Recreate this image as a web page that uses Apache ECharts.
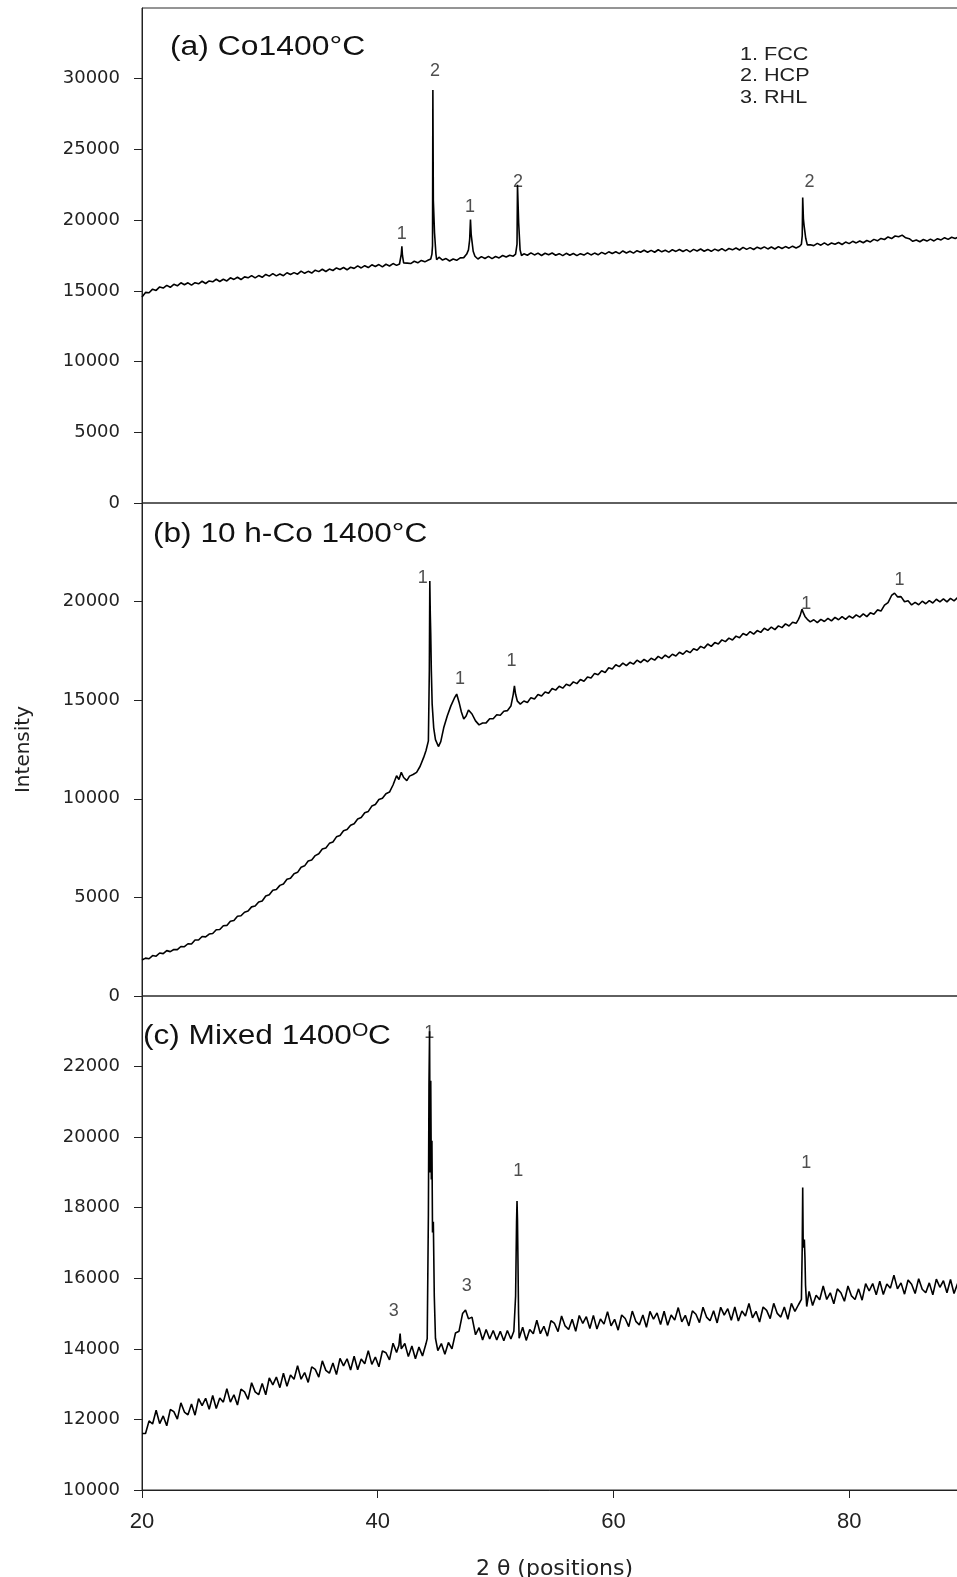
<!DOCTYPE html>
<html>
<head>
<meta charset="utf-8">
<script src="https://cdn.jsdelivr.net/npm/echarts@6/dist/echarts.min.js"></script>
<style>
html,body{margin:0;padding:0;background:#fff;}
#chart{width:957px;height:1577px;}
</style>
</head>
<body>
<div id="chart"></div>
<script>
// ---- data (2θ, intensity) ----
const xrdA = [[20.0,14570],[20.3,14890],[20.6,14870],[20.9,15120],[21.2,15030],[21.5,15280],[21.8,15200],[22.1,15390],[22.4,15250],[22.7,15460],[23.0,15360],[23.3,15570],[23.6,15430],[23.9,15570],[24.2,15400],[24.5,15580],[24.8,15500],[25.1,15680],[25.4,15520],[25.7,15700],[26.0,15640],[26.3,15820],[26.6,15660],[26.9,15820],[27.2,15700],[27.5,15920],[27.8,15810],[28.1,15960],[28.4,15800],[28.7,15990],[29.0,15920],[29.3,16080],[29.6,15920],[29.9,16080],[30.2,15960],[30.5,16160],[30.8,16040],[31.1,16220],[31.4,16060],[31.7,16190],[32.0,16070],[32.3,16280],[32.6,16160],[32.9,16290],[33.2,16180],[33.5,16400],[33.8,16240],[34.1,16380],[34.4,16260],[34.7,16460],[35.0,16360],[35.3,16530],[35.6,16370],[35.9,16540],[36.2,16440],[36.5,16620],[36.8,16510],[37.1,16650],[37.4,16490],[37.7,16670],[38.0,16590],[38.3,16770],[38.6,16620],[38.9,16780],[39.2,16650],[39.5,16840],[39.8,16720],[40.1,16860],[40.4,16700],[40.7,16880],[41.0,16760],[41.3,16930],[41.6,16800],[41.85,16900],[42.0,17600],[42.05,18150],[42.1,17500],[42.2,16980],[42.5,16960],[42.8,16930],[43.1,17090],[43.4,16980],[43.7,17150],[44.0,17050],[44.3,17180],[44.5,17250],[44.6,17600],[44.65,18200],[44.68,29200],[44.72,21400],[44.78,21300],[44.82,19100],[44.88,19000],[44.94,17600],[45.0,17200],[45.2,17380],[45.5,17180],[45.8,17280],[46.1,17110],[46.4,17250],[46.7,17160],[47.0,17330],[47.3,17350],[47.55,17600],[47.7,17900],[47.8,18600],[47.87,20050],[47.93,19000],[48.0,18500],[48.1,17800],[48.25,17450],[48.5,17250],[48.8,17420],[49.1,17290],[49.4,17440],[49.7,17280],[50.0,17430],[50.3,17330],[50.6,17500],[50.9,17390],[51.2,17520],[51.5,17450],[51.7,17600],[51.82,18300],[51.86,22500],[51.92,22400],[51.96,19800],[52.02,19700],[52.08,17900],[52.2,17500],[52.4,17620],[52.7,17520],[53.0,17690],[53.3,17540],[53.6,17670],[53.9,17500],[54.2,17660],[54.5,17550],[54.8,17680],[55.1,17520],[55.4,17630],[55.7,17490],[56.0,17655],[56.3,17515],[56.6,17640],[56.9,17490],[57.2,17630],[57.5,17530],[57.8,17690],[58.1,17540],[58.4,17670],[58.7,17550],[59.0,17720],[59.3,17600],[59.6,17760],[59.9,17640],[60.2,17760],[60.5,17630],[60.8,17820],[61.1,17680],[61.4,17800],[61.7,17670],[62.0,17840],[62.3,17730],[62.6,17870],[62.9,17730],[63.2,17865],[63.5,17730],[63.8,17905],[64.1,17760],[64.4,17875],[64.7,17740],[65.0,17905],[65.3,17790],[65.6,17925],[65.9,17780],[66.2,17915],[66.5,17760],[66.8,17935],[67.1,17815],[67.4,17960],[67.7,17800],[68.0,17930],[68.3,17795],[68.6,17950],[68.9,17835],[69.2,17990],[69.5,17830],[69.8,17995],[70.1,17900],[70.4,18030],[70.7,17890],[71.0,18075],[71.3,17935],[71.6,18055],[71.9,17925],[72.2,18090],[72.5,17975],[72.8,18110],[73.1,17965],[73.4,18100],[73.7,17960],[74.0,18130],[74.3,17990],[74.6,18130],[74.9,18020],[75.2,18160],[75.5,18030],[75.8,18150],[75.95,18300],[76.02,18900],[76.06,21600],[76.12,20100],[76.18,19600],[76.24,19500],[76.32,18700],[76.45,18250],[76.7,18260],[77.0,18200],[77.3,18360],[77.6,18230],[77.9,18390],[78.2,18230],[78.5,18380],[78.8,18290],[79.1,18420],[79.4,18280],[79.7,18450],[80.0,18340],[80.3,18500],[80.6,18390],[80.9,18530],[81.2,18400],[81.5,18560],[81.8,18460],[82.1,18640],[82.4,18540],[82.7,18710],[83.0,18630],[83.3,18810],[83.6,18700],[83.9,18880],[84.2,18820],[84.5,18940],[84.8,18750],[85.1,18690],[85.4,18500],[85.7,18590],[86.0,18470],[86.3,18630],[86.6,18520],[86.9,18660],[87.2,18530],[87.5,18690],[87.8,18600],[88.1,18760],[88.4,18640],[88.7,18790],[89.0,18700],[89.3,18820],[89.6,18700],[90.0,18800]];

const xrdB = [[20.0,1830],[20.3,1920],[20.6,1890],[20.9,2050],[21.2,2020],[21.5,2180],[21.8,2150],[22.1,2300],[22.4,2250],[22.7,2360],[23.0,2350],[23.3,2510],[23.6,2500],[23.9,2650],[24.2,2640],[24.5,2840],[24.8,2840],[25.1,3020],[25.4,3000],[25.7,3140],[26.0,3170],[26.3,3360],[26.6,3370],[26.9,3560],[27.2,3580],[27.5,3790],[27.8,3830],[28.1,4040],[28.4,4070],[28.7,4250],[29.0,4310],[29.3,4520],[29.6,4560],[29.9,4770],[30.2,4820],[30.5,5070],[30.8,5130],[31.1,5360],[31.4,5400],[31.7,5610],[32.0,5680],[32.3,5920],[32.6,5970],[32.9,6200],[33.2,6270],[33.5,6530],[33.8,6600],[34.1,6850],[34.4,6900],[34.7,7120],[35.0,7210],[35.3,7450],[35.6,7510],[35.9,7740],[36.2,7810],[36.5,8070],[36.8,8140],[37.1,8380],[37.4,8440],[37.7,8660],[38.0,8740],[38.3,8980],[38.6,9050],[38.9,9290],[39.2,9360],[39.5,9630],[39.8,9710],[40.1,9960],[40.4,10030],[40.7,10260],[41.0,10340],[41.3,10700],[41.6,11170],[41.8,10980],[42.0,11340],[42.2,11080],[42.47,10920],[42.7,11150],[43.0,11230],[43.3,11340],[43.6,11650],[43.9,12100],[44.1,12450],[44.3,12940],[44.38,16500],[44.42,21050],[44.46,19400],[44.5,18360],[44.55,16500],[44.62,14800],[44.75,13600],[44.9,13000],[45.15,12650],[45.35,12900],[45.6,13600],[45.9,14200],[46.2,14700],[46.5,15100],[46.7,15310],[46.9,14900],[47.1,14400],[47.3,14050],[47.5,14200],[47.7,14500],[47.85,14550],[48.0,14300],[48.3,13950],[48.6,13750],[48.9,13840],[49.2,13850],[49.5,14060],[49.8,14060],[50.1,14260],[50.4,14240],[50.7,14440],[51.0,14470],[51.3,14700],[51.5,15300],[51.6,15730],[51.7,15300],[51.85,14950],[52.1,14800],[52.4,14960],[52.7,14880],[53.0,15130],[53.3,15060],[53.6,15290],[53.9,15210],[54.2,15420],[54.5,15350],[54.8,15590],[55.1,15510],[55.4,15710],[55.7,15610],[56.0,15810],[56.3,15730],[56.6,15930],[56.9,15840],[57.2,16050],[57.5,15960],[57.8,16180],[58.1,16130],[58.4,16360],[58.7,16290],[59.0,16490],[59.3,16410],[59.6,16640],[59.9,16580],[60.2,16800],[60.5,16700],[60.8,16880],[61.1,16750],[61.4,16920],[61.7,16830],[62.0,17030],[62.3,16910],[62.6,17070],[62.9,16950],[63.2,17130],[63.5,17030],[63.8,17220],[64.1,17110],[64.4,17290],[64.7,17160],[65.0,17330],[65.3,17240],[65.6,17430],[65.9,17330],[66.2,17510],[66.5,17410],[66.8,17610],[67.1,17530],[67.4,17730],[67.7,17640],[68.0,17850],[68.3,17730],[68.6,17920],[68.9,17850],[69.2,18060],[69.5,17970],[69.8,18150],[70.1,18050],[70.4,18250],[70.7,18170],[71.0,18380],[71.3,18290],[71.6,18480],[71.9,18350],[72.2,18530],[72.5,18440],[72.8,18650],[73.1,18540],[73.4,18710],[73.7,18580],[74.0,18770],[74.3,18680],[74.6,18870],[74.9,18760],[75.2,18950],[75.5,18900],[75.7,19100],[75.85,19300],[76.0,19620],[76.1,19450],[76.25,19250],[76.45,19100],[76.7,18970],[77.0,19080],[77.3,18930],[77.6,19100],[77.9,18990],[78.2,19150],[78.5,19020],[78.8,19200],[79.1,19080],[79.4,19240],[79.7,19100],[80.0,19270],[80.3,19160],[80.6,19330],[80.9,19210],[81.2,19380],[81.5,19240],[81.8,19430],[82.1,19360],[82.4,19580],[82.7,19520],[83.0,19820],[83.3,19950],[83.6,20310],[83.85,20430],[84.1,20240],[84.4,20250],[84.7,19990],[85.0,20040],[85.3,19830],[85.6,19960],[85.9,19840],[86.2,20020],[86.5,19890],[86.8,20050],[87.1,19930],[87.4,20120],[87.7,19990],[88.0,20140],[88.3,19990],[88.6,20160],[88.9,20040],[89.2,20200],[89.5,20070],[89.8,20210],[90.0,20150]];

const xrdC = [[20.0,11600],[20.3,11600],[20.6,11960],[20.9,11870],[21.2,12260],[21.5,11880],[21.8,12100],[22.1,11820],[22.4,12280],[22.7,12220],[23.0,12010],[23.3,12470],[23.6,12210],[23.9,12130],[24.2,12440],[24.5,12120],[24.8,12590],[25.1,12390],[25.4,12600],[25.7,12290],[26.0,12680],[26.3,12310],[26.6,12610],[26.9,12490],[27.2,12870],[27.5,12490],[27.8,12700],[28.1,12410],[28.4,12860],[28.7,12780],[29.0,12570],[29.3,13040],[29.6,12780],[29.9,12700],[30.2,13020],[30.5,12700],[30.8,13180],[31.1,12980],[31.4,13200],[31.7,12900],[32.0,13310],[32.3,12940],[32.6,13260],[32.9,13140],[33.2,13520],[33.5,13140],[33.8,13330],[34.1,13050],[34.4,13490],[34.7,13420],[35.0,13200],[35.3,13660],[35.6,13390],[35.9,13310],[36.2,13600],[36.5,13270],[36.8,13730],[37.1,13520],[37.4,13720],[37.7,13400],[38.0,13790],[38.3,13410],[38.6,13710],[38.9,13580],[39.2,13950],[39.5,13560],[39.8,13770],[40.1,13490],[40.4,13940],[40.7,13890],[41.0,13690],[41.3,14160],[41.6,13900],[41.8,14100],[41.9,14430],[42.0,14000],[42.3,14150],[42.6,13780],[42.9,14080],[43.2,13720],[43.5,14050],[43.8,13800],[44.1,14150],[44.2,14290],[44.3,17800],[44.35,21500],[44.4,23000],[44.45,19000],[44.5,21600],[44.55,18800],[44.6,19900],[44.65,17300],[44.72,17600],[44.8,15500],[44.9,14300],[45.1,13950],[45.4,14150],[45.7,13850],[46.0,14180],[46.3,14000],[46.6,14450],[46.9,14500],[47.2,15000],[47.45,15100],[47.7,14850],[48.0,14900],[48.3,14400],[48.6,14600],[48.9,14250],[49.2,14550],[49.5,14280],[49.8,14520],[50.1,14250],[50.4,14500],[50.7,14230],[51.0,14520],[51.3,14280],[51.55,14500],[51.7,15500],[51.78,17600],[51.82,18190],[51.86,17650],[51.9,16500],[51.95,15000],[52.0,14300],[52.3,14610],[52.6,14240],[52.9,14550],[53.2,14430],[53.5,14810],[53.8,14430],[54.1,14640],[54.4,14360],[54.7,14800],[55.0,14720],[55.3,14490],[55.6,14930],[55.9,14650],[56.2,14550],[56.5,14840],[56.8,14500],[57.1,14945],[57.4,14720],[57.7,14910],[58.0,14575],[58.3,14950],[58.6,14560],[58.9,14845],[59.2,14700],[59.5,15055],[59.8,14650],[60.1,14836],[60.4,14530],[60.7,14960],[61.0,14860],[61.3,14630],[61.6,15070],[61.9,14780],[62.2,14680],[62.5,14960],[62.8,14610],[63.1,15060],[63.4,14840],[63.7,15020],[64.0,14690],[64.3,15065],[64.6,14670],[64.9,14960],[65.2,14815],[65.5,15170],[65.8,14765],[66.1,14950],[66.4,14650],[66.7,15075],[67.0,14980],[67.3,14745],[67.6,15180],[67.9,14900],[68.2,14795],[68.5,15080],[68.8,14735],[69.1,15180],[69.4,14955],[69.7,15140],[70.0,14810],[70.3,15185],[70.6,14790],[70.9,15075],[71.2,14930],[71.5,15285],[71.8,14880],[72.1,15065],[72.4,14760],[72.7,15185],[73.0,15090],[73.3,14855],[73.6,15290],[73.9,15005],[74.2,14900],[74.5,15185],[74.8,14840],[75.1,15290],[75.4,15060],[75.7,15250],[75.95,15400],[76.02,16900],[76.06,18570],[76.1,17000],[76.15,16870],[76.2,17100],[76.25,16600],[76.3,15800],[76.4,15200],[76.6,15630],[76.9,15230],[77.2,15520],[77.5,15390],[77.8,15780],[78.1,15400],[78.4,15590],[78.7,15280],[79.0,15700],[79.3,15590],[79.6,15350],[79.9,15780],[80.2,15500],[80.5,15400],[80.8,15700],[81.1,15380],[81.4,15850],[81.7,15640],[82.0,15850],[82.3,15530],[82.6,15920],[82.9,15540],[83.2,15840],[83.5,15720],[83.8,16090],[84.1,15700],[84.4,15870],[84.7,15550],[85.0,15950],[85.3,15830],[85.6,15570],[85.9,15990],[86.2,15690],[86.5,15590],[86.8,15870],[87.1,15530],[87.4,15975],[87.7,15745],[88.0,15930],[88.3,15590],[88.6,15965],[88.9,15570],[89.2,15850],[89.5,15700],[89.8,16060],[90.0,15800]];

// peak annotations: [2θ, intensity, text]
const peaksA = [[42.04,19050,'1'],[44.86,30510,'2'],[47.83,20900,'1'],[51.9,22670,'2'],[76.64,22670,'2']];
const peaksB = [[43.82,21220,'1'],[46.98,16080,'1'],[51.36,17000,'1'],[76.36,19880,'1'],[84.27,21100,'1']];
const peaksC = [[44.38,22940,'1'],[41.37,15085,'3'],[47.55,15790,'3'],[51.92,19040,'1'],[76.36,19275,'1']];

const ticksA = [0,5000,10000,15000,20000,25000,30000];
const ticksB = [0,5000,10000,15000,20000];
const ticksC = [10000,12000,14000,16000,18000,20000,22000];
const ticksX = [20,40,60,80];

const panelTitles = ['(a) Co1400°C','(b) 10 h-Co 1400°C','(c) Mixed 1400'];
const legendLines = ['1. FCC','2. HCP','3. RHL'];

// ---- chart ----
const chart = echarts.init(document.getElementById('chart'), null, {renderer:'canvas'});
const axisColor = '#222';
const gridCommon = {left:142, width:825, outerBoundsMode:'none', containLabel:false, show:true,
  borderColor:'#2a2a2a', borderWidth:1, backgroundColor:'transparent'};

function yAxis(idx, min, max, ticks, extra){
  return Object.assign({
    type:'value', gridIndex:idx, min:min, max:max,
    axisLine:{show:true, lineStyle:{color:axisColor, width:1}},
    axisTick:{show:true, inside:false, length:8, lineStyle:{color:axisColor}, customValues:ticks},
    axisLabel:{show:true, margin:22, color:'#222', fontFamily:'DejaVu Sans', fontSize:18, customValues:ticks,
      formatter: v => String(v)},
    splitLine:{show:false}
  }, extra||{});
}
function xAxis(idx, showAll){
  return {
    type:'value', gridIndex:idx, min:20, max:90,
    axisLine:{show:showAll, lineStyle:{color:axisColor}},
    axisTick:{show:showAll, length:8, lineStyle:{color:axisColor}, customValues:ticksX},
    axisLabel:{show:showAll, margin:21, color:'#222', fontFamily:'Liberation Sans', fontSize:22, customValues:ticksX,
      formatter: v => String(v)},
    splitLine:{show:false},
    name: showAll ? '2 θ (positions)' : '',
    nameLocation:'middle', nameGap:68,
    nameTextStyle:{fontFamily:'DejaVu Sans', fontSize:22, color:'#222'}
  };
}
function lineSeries(idx, data){
  return {type:'line', xAxisIndex:idx, yAxisIndex:idx, data:data, symbol:'none', showSymbol:false,
    lineStyle:{color:'#000', width:1.6}, animation:false, silent:true, clip:true};
}
function labelSeries(idx, peaks){
  return {type:'scatter', xAxisIndex:idx, yAxisIndex:idx, symbolSize:0, animation:false, silent:true,
    itemStyle:{color:'rgba(0,0,0,0)'},
    data: peaks.map(p => ({value:[p[0],p[1]], label:{formatter:p[2]}})),
    label:{show:true, position:'inside', color:'#222', fontFamily:'Liberation Sans', fontSize:18}
  };
}

const option = {
  backgroundColor:'#fff',
  animation:false,
  grid:[
    Object.assign({top:8, height:495}, gridCommon),
    Object.assign({top:503, height:493}, gridCommon),
    Object.assign({top:996, height:494}, gridCommon)
  ],
  xAxis:[xAxis(0,false), xAxis(1,false), xAxis(2,true)],
  yAxis:[
    yAxis(0,0,35000,ticksA),
    yAxis(1,0,25000,ticksB,{name:'Intensity', nameLocation:'middle', nameGap:108,
      nameTextStyle:{fontFamily:'DejaVu Sans', fontSize:20, color:'#222'}}),
    yAxis(2,10000,24000,ticksC)
  ],
  series:[
    lineSeries(0,xrdA), lineSeries(1,xrdB), lineSeries(2,xrdC),
    labelSeries(0,peaksA), labelSeries(1,peaksB), labelSeries(2,peaksC)
  ],
  graphic:[
    {type:'text', x:170, y:48, scaleX:1.18, silent:true,
      style:{text:panelTitles[0], font:'27px "Liberation Sans"', fill:'#111', align:'left', verticalAlign:'middle'}},
    {type:'text', x:153, y:535, scaleX:1.17, silent:true,
      style:{text:panelTitles[1], font:'27px "Liberation Sans"', fill:'#111', align:'left', verticalAlign:'middle'}},
    {type:'text', x:143, y:1037, scaleX:1.17, silent:true,
      style:{text:panelTitles[2], font:'27px "Liberation Sans"', fill:'#111', align:'left', verticalAlign:'middle'}},
    {type:'text', x:352, y:1031, scaleX:1.17, silent:true,
      style:{text:'O', font:'18px "Liberation Sans"', fill:'#111', align:'left', verticalAlign:'middle'}},
    {type:'text', x:368, y:1037, scaleX:1.17, silent:true,
      style:{text:'C', font:'27px "Liberation Sans"', fill:'#111', align:'left', verticalAlign:'middle'}},
    {type:'text', x:740, y:44, scaleX:1.2, silent:true,
      style:{text:legendLines.join('\n'), font:'18px "Liberation Sans"', lineHeight:21.5, fill:'#222', align:'left', verticalAlign:'top'}}
  ]
};
chart.setOption(option);
</script>
</body>
</html>
